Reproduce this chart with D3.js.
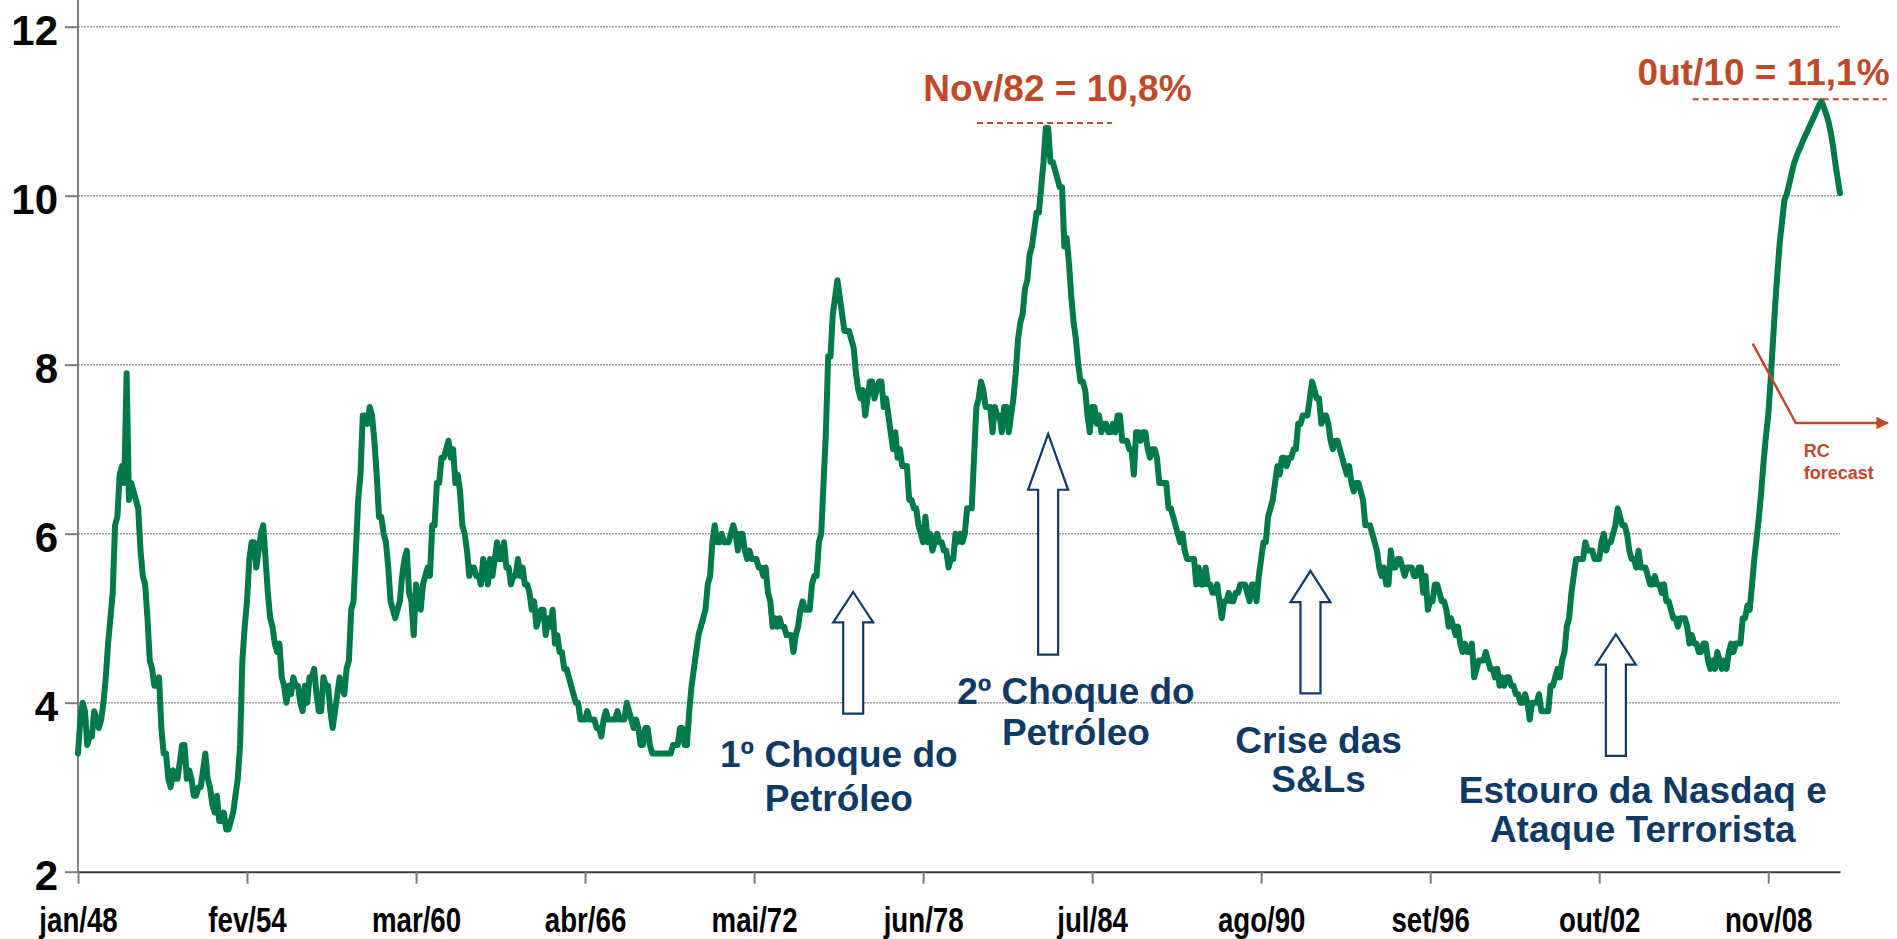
<!DOCTYPE html>
<html>
<head>
<meta charset="utf-8">
<script src="https://cdn.jsdelivr.net/npm/d3@7"></script>
<style>
  body { margin: 0; background: #fff; }
  svg { display: block; }
  .axis text { font-family: "Liberation Sans", Arial, sans-serif; font-weight: bold; fill: #000; }
</style>
</head>
<body>
<div id="chart"></div>
<script>
// Taxa de desemprego (%) mensal, jan/48 em diante
const rate1940s = [3.4,3.8,4.0,3.9,3.5,3.6,3.6,3.9,3.8,3.7,3.8,4.0,
  4.3,4.7,5.0,5.3,6.1,6.2,6.7,6.8,6.6,7.9,6.4,6.6];
const rate1950s = [6.5,6.4,6.3,5.8,5.5,5.4,5.0,4.5,4.4,4.2,4.2,4.3,
  3.7,3.4,3.4,3.1,3.0,3.2,3.1,3.1,3.3,3.5,3.5,3.1,
  3.2,3.1,2.9,2.9,3.0,3.0,3.2,3.4,3.1,3.0,2.8,2.7,
  2.9,2.6,2.6,2.7,2.5,2.5,2.6,2.7,2.9,3.1,3.5,4.5,
  4.9,5.2,5.7,5.9,5.9,5.6,5.8,6.0,6.1,5.7,5.3,5.0,
  4.9,4.7,4.6,4.7,4.3,4.2,4.0,4.2,4.1,4.3,4.2,4.2,
  4.0,3.9,4.2,4.0,4.3,4.3,4.4,4.1,3.9,3.9,4.3,4.2,
  4.2,3.9,3.7,3.9,4.1,4.3,4.2,4.1,4.4,4.5,5.1,5.2,
  5.8,6.4,6.7,7.4,7.4,7.3,7.5,7.4,7.1,6.7,6.2,6.2,
  6.0,5.9,5.6,5.2,5.1,5.0,5.1,5.2,5.5,5.7,5.8,5.3];
const rate1960s = [5.2,4.8,5.4,5.2,5.1,5.4,5.5,5.6,5.5,6.1,6.1,6.6,
  6.6,6.9,6.9,7.0,7.1,6.9,7.0,6.6,6.7,6.5,6.1,6.0,
  5.8,5.5,5.6,5.6,5.5,5.5,5.4,5.7,5.6,5.4,5.7,5.5,
  5.7,5.9,5.7,5.7,5.9,5.6,5.6,5.4,5.5,5.5,5.7,5.5,
  5.6,5.4,5.4,5.3,5.1,5.2,4.9,5.0,5.1,5.1,4.8,5.0,
  4.9,5.1,4.7,4.8,4.6,4.6,4.4,4.4,4.3,4.2,4.1,4.0,
  4.0,3.8,3.8,3.8,3.9,3.8,3.8,3.8,3.7,3.7,3.6,3.8,
  3.9,3.8,3.8,3.8,3.8,3.9,3.8,3.8,3.8,4.0,3.9,3.8,
  3.7,3.8,3.7,3.5,3.5,3.7,3.7,3.5,3.4,3.4,3.4,3.4,
  3.4,3.4,3.4,3.4,3.4,3.5,3.5,3.5,3.7,3.7,3.5,3.5];
const rate1970s = [3.9,4.2,4.4,4.6,4.8,4.9,5.0,5.1,5.4,5.5,5.9,6.1,
  5.9,5.9,6.0,5.9,5.9,5.9,6.0,6.1,6.0,5.8,6.0,6.0,
  5.8,5.7,5.8,5.7,5.7,5.7,5.6,5.6,5.5,5.6,5.3,5.2,
  4.9,5.0,4.9,5.0,4.9,4.9,4.8,4.8,4.8,4.6,4.8,4.9,
  5.1,5.2,5.1,5.1,5.1,5.4,5.5,5.5,5.9,6.0,6.6,7.2,
  8.1,8.1,8.6,8.8,9.0,8.8,8.6,8.4,8.4,8.4,8.3,8.2,
  7.9,7.7,7.6,7.7,7.4,7.6,7.8,7.8,7.6,7.7,7.8,7.8,
  7.5,7.6,7.4,7.2,7.0,7.2,6.9,7.0,6.8,6.8,6.8,6.4,
  6.4,6.3,6.3,6.1,6.0,5.9,6.2,5.9,6.0,5.8,5.9,6.0,
  5.9,5.9,5.8,5.8,5.6,5.7,5.7,6.0,5.9,6.0,5.9,6.0];
const rate1980s = [6.3,6.3,6.3,6.9,7.5,7.6,7.8,7.7,7.5,7.5,7.5,7.2,
  7.5,7.4,7.4,7.2,7.5,7.5,7.2,7.4,7.6,7.9,8.3,8.5,
  8.6,8.9,9.0,9.3,9.4,9.6,9.8,9.8,10.1,10.4,10.8,10.8,
  10.4,10.4,10.3,10.2,10.1,10.1,9.4,9.5,9.2,8.8,8.5,8.3,
  8.0,7.8,7.8,7.7,7.4,7.2,7.5,7.5,7.3,7.4,7.2,7.3,
  7.3,7.2,7.2,7.3,7.2,7.4,7.4,7.1,7.1,7.1,7.0,7.0,
  6.7,7.2,7.2,7.1,7.2,7.2,7.0,6.9,7.0,7.0,6.9,6.6,
  6.6,6.6,6.6,6.3,6.3,6.2,6.1,6.0,5.9,6.0,5.8,5.7,
  5.7,5.7,5.7,5.4,5.6,5.4,5.4,5.6,5.4,5.4,5.3,5.3,
  5.4,5.2,5.0,5.2,5.2,5.3,5.2,5.2,5.3,5.3,5.4,5.4];
const rate1990s = [5.4,5.3,5.2,5.4,5.4,5.2,5.5,5.7,5.9,5.9,6.2,6.3,
  6.4,6.6,6.8,6.7,6.9,6.9,6.8,6.9,6.9,7.0,7.0,7.3,
  7.3,7.4,7.4,7.4,7.6,7.8,7.7,7.6,7.6,7.3,7.4,7.4,
  7.3,7.1,7.0,7.1,7.1,7.0,6.9,6.8,6.7,6.8,6.6,6.5,
  6.6,6.6,6.5,6.4,6.1,6.1,6.1,6.0,5.9,5.8,5.6,5.5,
  5.6,5.4,5.4,5.8,5.6,5.6,5.7,5.7,5.6,5.5,5.6,5.6,
  5.6,5.5,5.5,5.6,5.6,5.3,5.5,5.1,5.2,5.2,5.4,5.4,
  5.3,5.2,5.2,5.1,4.9,5.0,4.9,4.8,4.9,4.7,4.6,4.7,
  4.6,4.6,4.7,4.3,4.4,4.5,4.5,4.5,4.6,4.5,4.4,4.4,
  4.3,4.4,4.2,4.3,4.2,4.3,4.3,4.2,4.2,4.1,4.1,4.0];
const rate2000s = [4.0,4.1,4.0,3.8,4.0,4.0,4.0,4.1,3.9,3.9,3.9,3.9,
  4.2,4.2,4.3,4.4,4.3,4.5,4.6,4.9,5.0,5.3,5.5,5.7,
  5.7,5.7,5.7,5.9,5.8,5.8,5.8,5.7,5.7,5.7,5.9,6.0,
  5.8,5.9,5.9,6.0,6.1,6.3,6.2,6.1,6.1,6.0,5.8,5.7,
  5.7,5.6,5.8,5.6,5.6,5.6,5.5,5.4,5.4,5.5,5.4,5.4,
  5.3,5.4,5.2,5.2,5.1,5.0,5.0,4.9,5.0,5.0,5.0,4.9,
  4.7,4.8,4.7,4.7,4.6,4.6,4.7,4.7,4.5,4.4,4.5,4.4,
  4.6,4.5,4.4,4.5,4.4,4.6,4.7,4.6,4.7,4.7,4.7,5.0,
  5.0,5.15,5.1,5.4,5.7,5.95,6.2,6.5,6.85,7.15,7.4,7.8,
  8.25,8.7,9.1,9.45,9.7,9.95,10.02,10.13,10.25,10.37,10.45,10.52];
const rate2010s = [10.58,10.65,10.71,10.77,10.83,10.89,10.95,11.01,11.07,11.12,11.05,10.97,
  10.88,10.75,10.58,10.38,10.2,10.03];

const monthNames = ["jan","fev","mar","abr","mai","jun","jul","ago","set","out","nov","dez"];
const tickLabels = ["jan/48","fev/54","mar/60","abr/66","mai/72","jun/78","jul/84","ago/90","set/96","out/02","nov/08"];
const yTicks = [2, 4, 6, 8, 10, 12];

// anotações em coordenadas dos dados (mês desde jan/48, valor em %)
const eventArrows = [
  { month: 334.8, tip: 5.31, head: 4.95, base: 3.87 },
  { month: 419.0, tip: 7.18, head: 6.52, base: 4.57 },
  { month: 532.3, tip: 5.56, head: 5.19, base: 4.11 },
  { month: 664.2, tip: 4.81, head: 4.45, base: 3.37 }
];
const eventLabels = [
  { month: 328.6, lines: ["1º Choque do", "Petróleo"], base: [3.24, 2.72] },
  { month: 431.0, lines: ["2º Choque do", "Petróleo"], base: [3.98, 3.50] },
  { month: 535.8, lines: ["Crise das", "S&Ls"], base: [3.41, 2.94] },
  { month: 675.8, lines: ["Estouro da Nasdaq e", "Ataque Terrorista"], base: [2.81, 2.35] }
];
const peakLabels = [
  { text: "Nov/82 = 10,8%", month: 423, value: 11.12, from: 388.3, to: 446.5, level: 10.86 },
  { text: "0ut/10 = 11,1%", month: 728, value: 11.31, from: 697.4, to: 781.2, level: 11.14 }
];
const forecastPath = [[723.3, 8.25], [741.9, 7.31], [781.6, 7.31]];
const forecastText = { month: 745.3, lines: ["RC", "forecast"], base: [6.91, 6.65] };

const rates = [].concat(rate1940s, rate1950s, rate1960s, rate1970s, rate1980s, rate1990s, rate2000s, rate2010s);
const months = rates.map((d, i) => monthNames[i % 12] + "/" + String((48 + Math.floor(i / 12)) % 100).padStart(2, "0"));

const W = 1897, H = 939;
const plotLeft = 78, plotRight = 1840, plotTop = 26.7, plotBottom = 871.7;
const green = "#007a4b", navy = "#0f3a66", rust = "#bf4a2b";

const svg = d3.select("#chart").append("svg")
  .attr("width", W)
  .attr("height", H);

const x = d3.scaleLinear()
  .domain([0, rates.length - 1])
  .range([plotLeft, plotRight]);

const y = d3.scaleLinear()
  .domain([2, 12])
  .range([plotBottom, plotTop]);

// grid
svg.append("g")
  .selectAll("line")
  .data(yTicks.filter(d => d > 2))
  .enter()
  .append("line")
  .attr("x1", plotLeft)
  .attr("x2", plotRight)
  .attr("y1", d => y(d))
  .attr("y2", d => y(d))
  .attr("stroke", "#a0a0a0")
  .attr("stroke-width", 1.5)
  .attr("stroke-dasharray", "2,1");

// y axis
const yAxis = svg.append("g")
  .attr("class", "axis y-axis")
  .attr("transform", `translate(${plotLeft},0)`)
  .call(d3.axisLeft(y).tickValues(yTicks).tickSize(13).tickSizeOuter(0).tickPadding(7));
yAxis.select(".domain").remove();
yAxis.selectAll(".tick line").attr("stroke", "#7a7a7a").attr("stroke-width", 2);
yAxis.selectAll("text").style("font-size", "42px").attr("dy", "0.42em");
svg.append("line")
  .attr("x1", plotLeft).attr("x2", plotLeft)
  .attr("y1", 0).attr("y2", plotBottom)
  .attr("stroke", "#7f7f7f")
  .attr("stroke-width", 2);

// x axis (condensed labels)
const xAxis = svg.append("g")
  .attr("class", "axis x-axis")
  .attr("transform", `translate(0,${plotBottom})`)
  .call(d3.axisBottom(x)
    .tickValues(tickLabels.map(l => months.indexOf(l)))
    .tickFormat(i => months[i])
    .tickSize(12).tickSizeOuter(0).tickPadding(0));
xAxis.select(".domain").attr("stroke", "#3c3c3c").attr("stroke-width", 2);
xAxis.selectAll(".tick line").attr("stroke", "#7a7a7a").attr("stroke-width", 2);
xAxis.selectAll("text")
  .style("font-size", "35px")
  .attr("y", 0)
  .attr("dy", 0)
  .attr("transform", "translate(0,60) scale(0.79,1)");

// series
const line = d3.line()
  .x((d, i) => x(i))
  .y(d => y(d));

svg.append("path")
  .datum(rates)
  .attr("d", line)
  .attr("fill", "none")
  .attr("stroke", green)
  .attr("stroke-width", 6)
  .attr("stroke-linejoin", "round")
  .attr("stroke-linecap", "round");

// event arrows (outlined up arrows)
svg.append("g")
  .selectAll("path")
  .data(eventArrows)
  .enter()
  .append("path")
  .attr("d", d => {
    const cx = x(d.month);
    const headHalf = 20, shaftHalf = 10;
    const yt = y(d.tip), yh = y(d.head), yb = y(d.base);
    return `M${cx},${yt} L${cx + headHalf},${yh} L${cx + shaftHalf},${yh} L${cx + shaftHalf},${yb} ` +
      `L${cx - shaftHalf},${yb} L${cx - shaftHalf},${yh} L${cx - headHalf},${yh} Z`;
  })
  .attr("fill", "#fff")
  .attr("stroke", navy)
  .attr("stroke-width", 2.2)
  .attr("stroke-linejoin", "miter");

// event labels, one text per line
svg.append("g")
  .selectAll("text")
  .data(eventLabels.flatMap(d => d.lines.map((t, i) => ({ t, month: d.month, v: d.base[i] }))))
  .enter()
  .append("text")
  .attr("text-anchor", "middle")
  .attr("fill", navy)
  .style("font-family", "'Liberation Sans', Arial, sans-serif")
  .style("font-weight", "bold")
  .style("font-size", "37px")
  .attr("x", d => x(d.month))
  .attr("y", d => y(d.v))
  .text(d => d.t);

// peak labels with dashed reference lines
const peaks = svg.append("g")
  .selectAll("g")
  .data(peakLabels)
  .enter()
  .append("g");
peaks.append("line")
  .attr("x1", d => x(d.from))
  .attr("x2", d => x(d.to))
  .attr("y1", d => y(d.level))
  .attr("y2", d => y(d.level))
  .attr("stroke", rust)
  .attr("stroke-width", 2)
  .attr("stroke-dasharray", "6,4");
peaks.append("text")
  .attr("x", d => x(d.month))
  .attr("y", d => y(d.value))
  .attr("text-anchor", "middle")
  .attr("fill", rust)
  .style("font-family", "'Liberation Sans', Arial, sans-serif")
  .style("font-weight", "bold")
  .style("font-size", "37px")
  .text(d => d.text);

// forecast pointer
const defs = svg.append("defs");
defs.append("marker")
  .attr("id", "arrowhead")
  .attr("viewBox", "0 0 10 10")
  .attr("refX", 9)
  .attr("refY", 5)
  .attr("markerWidth", 5)
  .attr("markerHeight", 5)
  .attr("orient", "auto")
  .append("path")
  .attr("d", "M0,0 L10,5 L0,10 Z")
  .attr("fill", rust);

svg.append("path")
  .datum(forecastPath)
  .attr("d", d3.line().x(d => x(d[0])).y(d => y(d[1])))
  .attr("fill", "none")
  .attr("stroke", rust)
  .attr("stroke-width", 2.5)
  .attr("marker-end", "url(#arrowhead)");

svg.append("g")
  .selectAll("text")
  .data(forecastText.lines.map((t, i) => ({ t, v: forecastText.base[i] })))
  .enter()
  .append("text")
  .attr("fill", rust)
  .style("font-family", "'Liberation Sans', Arial, sans-serif")
  .style("font-weight", "bold")
  .style("font-size", "18px")
  .attr("x", x(forecastText.month))
  .attr("y", d => y(d.v))
  .text(d => d.t);
</script>
</body>
</html>
